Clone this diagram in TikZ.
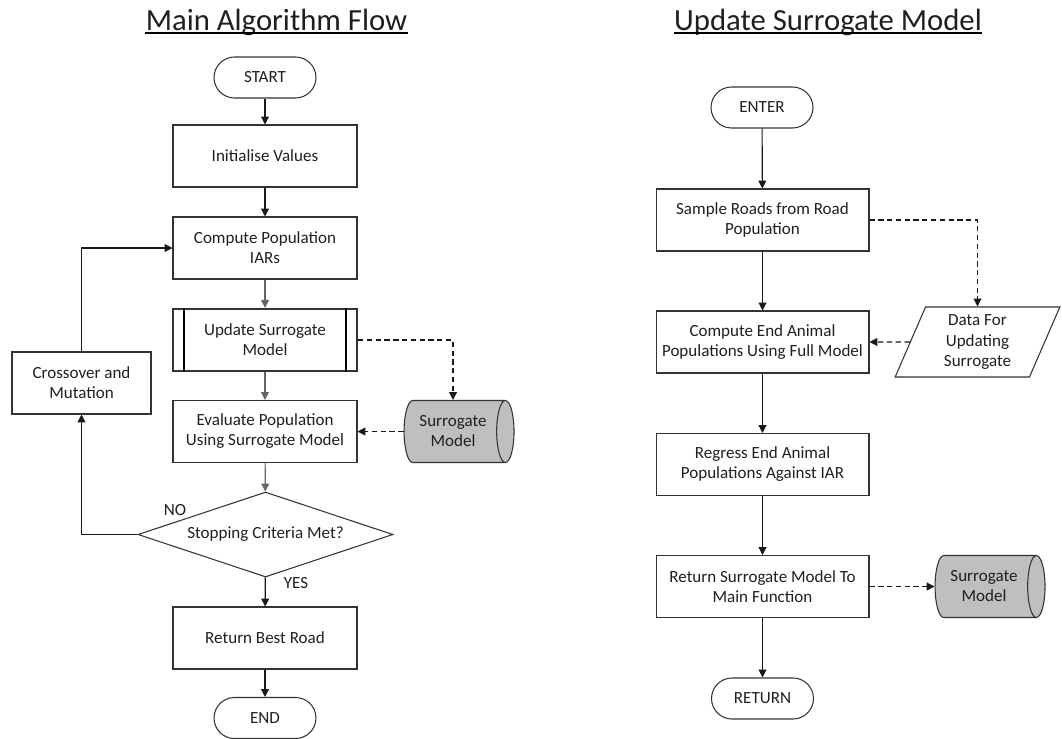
\documentclass[tikz,border=0pt]{standalone}
\usepackage{fontspec}
\setmainfont{Carlito}
\usetikzlibrary{arrows.meta, shapes.geometric}
\newcommand{\boxfont}{\fontsize{9.7}{11.4}\selectfont}
\newcommand{\titlefont}{\fontsize{17.5}{20}\selectfont}
\begin{document}
\begin{tikzpicture}[x=0.02cm, y=-0.02cm,
  line width=0.6pt, text=black!88,
  box/.style={draw=black!80, minimum width=3.68cm, minimum height=1.24cm, align=center, font=\boxfont, inner sep=1pt},
  widebox/.style={box, minimum width=4.26cm},
  term/.style={draw=black!80, rounded corners=0.41cm, minimum width=2.04cm, minimum height=0.82cm, font=\boxfont},
  store/.style={cylinder, shape border rotate=0, aspect=0.5, draw=black!80, fill=gray!50, minimum width=1.24cm, minimum height=2.2cm, align=center, font=\boxfont, inner sep=1pt},
  heading/.style={font=\titlefont, anchor=base, inner sep=0pt},
  flow/.style={-{Triangle[length=4.5pt, width=4.5pt]}, draw=black!90, line width=0.65pt},
  greyflow/.style={flow, draw=black!60},
  dataflow/.style={flow, dashed, dash pattern=on 3pt off 2pt}]
\useasboundingbox (0,0) rectangle (1062,738);

\begin{scope}
  % Main algorithm flow
  \node[heading] (mtitle) at (276.5,30) {Main Algorithm Flow};
  \draw[line width=0.9pt] ([yshift=-1.6pt]mtitle.base west) -- ([yshift=-1.6pt]mtitle.base east);

  \node[term] (start) at (265,77.5) {START};
  \node[box] (init) at (265,156) {Initialise Values};
  \node[box] (iar) at (265,248) {Compute Population\\IARs};
  \node[box, line width=1.3pt] (upd) at (265,340) {Update Surrogate\\Model};
  \draw[line width=1pt] ([xshift=0.24cm]upd.north west) -- ([xshift=0.24cm]upd.south west);
  \draw[line width=1pt] ([xshift=-0.24cm]upd.north east) -- ([xshift=-0.24cm]upd.south east);
  \node[box] (eval) at (265,431.5) {Evaluate Population\\Using Surrogate Model};
  \node[diamond, draw=black!80, aspect=3, minimum width=5.1cm, minimum height=1.7cm, inner sep=0pt, font=\boxfont] (crit) at (265.5,534.5) {Stopping Criteria Met?};
  \node[box] (best) at (265,638) {Return Best Road};
  \node[term] (end) at (265,718) {END};
  \node[box, minimum width=2.78cm] (cross) at (81.5,383) {Crossover and\\Mutation};
  \node[store] (surr) at (453,431.5) {Surrogate\\Model};

  % Labels on the decision
  \node[font=\boxfont] (no) at (175,510) {NO};
  \node[font=\boxfont] (yes) at (296,583) {YES};

  % Connectors
  \draw[flow] (start) -- (init);
  \draw[flow] (init) -- (iar);
  \draw[greyflow] (iar) -- (upd);
  \draw[greyflow] (upd) -- (eval);
  \draw[greyflow] (eval) -- (crit);
  \draw[flow] (crit) -- (best);
  \draw[flow] (best) -- (end);
  \draw[flow] (crit.west) -| (cross.south);
  \draw[flow] (cross.north) |- (iar.west);
  \draw[dataflow] (upd.east) -| (surr.north);
  \draw[dataflow] (surr.west) -- (eval.east);
\end{scope}

\begin{scope}
  % Update surrogate model
  \node[heading] (stitle) at (828,30) {Update Surrogate Model};
  \draw[line width=0.9pt] ([yshift=-1.6pt]stitle.base west) -- ([yshift=-1.6pt]stitle.base east);

  \node[term] (enter) at (762,107.5) {ENTER};
  \node[widebox] (samp) at (762.5,220) {Sample Roads from Road\\Population};
  \node[widebox] (comp) at (762.5,342) {Compute End Animal\\Populations Using Full Model};
  \node[trapezium, trapezium left angle=70, trapezium right angle=110, trapezium stretches=true, draw=black!80, minimum width=3.3cm, minimum height=1.4cm, align=center, font=\boxfont, inner sep=0pt] (data) at (977.5,342) {Data For\\Updating\\Surrogate};
  \node[widebox] (regr) at (762.5,464.5) {Regress End Animal\\Populations Against IAR};
  \node[widebox] (ret) at (762.5,586.5) {Return Surrogate Model To\\Main Function};
  \node[store] (surr2) at (984,586.5) {Surrogate\\Model};
  \node[term] (return) at (762.5,698.5) {RETURN};

  % Connectors
  \draw[flow] (enter) -- (samp);
  \draw[flow] (samp) -- (comp);
  \draw[flow] (comp) -- (regr);
  \draw[flow] (regr) -- (ret);
  \draw[flow] (ret) -- (return);
  \draw[dataflow] (samp.east) -| (data.north);
  \draw[dataflow] (data.west) -- (comp.east);
  \draw[dataflow] (ret.east) -- (surr2.west);
\end{scope}
\end{tikzpicture}
\end{document}
